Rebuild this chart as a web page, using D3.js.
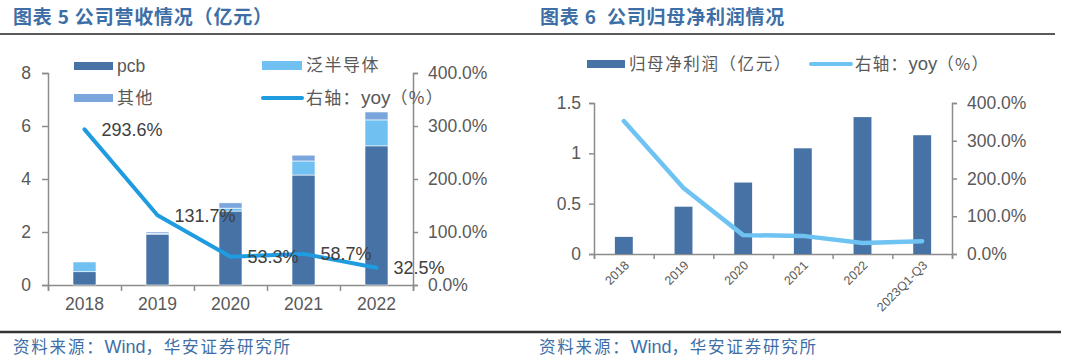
<!DOCTYPE html>
<html>
<head>
<meta charset="utf-8">
<script src="https://cdn.jsdelivr.net/npm/d3@7"></script>
<style>
  body { margin: 0; background: #fff; }
  svg { display: block; }
  text { font-family: "Liberation Sans", Arial, sans-serif; }
  .cjk { font-family: "Noto Sans CJK SC", sans-serif; }
  .lat { font-family: "Liberation Sans", Arial, sans-serif; letter-spacing: 0; }
</style>
</head>
<body>
<div id="chart"></div>
<script>
// ---- data: revenue chart (left) ----
const years = ["2018", "2019", "2020", "2021", "2022"];
const pcb = [0.50, 1.92, 2.79, 4.15, 5.25];
const semi = [0.37, 0.02, 0.11, 0.53, 0.98];
const other = [0.00, 0.06, 0.20, 0.22, 0.30];
const revYoy = [293.6, 131.7, 53.3, 58.7, 32.5];
const revTicks = [0, 2, 4, 6, 8];
const pctTicks = [0, 100, 200, 300, 400];

// ---- data: net profit chart (right) ----
const periods = ["2018", "2019", "2020", "2021", "2022", "2023Q1-Q3"];
const netProfit = [0.17, 0.47, 0.71, 1.05, 1.36, 1.18];
const profitYoy = [352, 175, 50, 48, 29, 34];
const profitTicks = [0, 0.5, 1, 1.5];

const colors = { pcb: "#4672a6", semi: "#70c1f1", other: "#7ba5dd", line1: "#1f9be0", line2: "#6ec3f2" };
const axisColor = "#8c8c8c";
const labelColor = "#595959";
const titleColor = "#3e6ea6";

const svg = d3.select("#chart").append("svg")
  .attr("width", 1080)
  .attr("height", 362);

svg.append("rect").attr("width", 1080).attr("height", 362).attr("fill", "#fff");

// mixed CJK / latin text: parts = [[text, isLatin], ...]
function mixedText(sel, parts) {
  parts.forEach(([t, latin]) => {
    const ts = sel.append("tspan").text(t);
    if (latin) ts.attr("class", "lat");
  });
  return sel;
}

// titles and rules
svg.append("text").attr("class", "cjk")
  .attr("x", 13).attr("y", 24)
  .attr("font-size", 19).attr("font-weight", "bold").attr("fill", titleColor)
  .attr("letter-spacing", 0.8)
  .text("图表 5 公司营收情况（亿元）");
svg.append("text").attr("class", "cjk")
  .attr("x", 540).attr("y", 24)
  .attr("font-size", 19).attr("font-weight", "bold").attr("fill", titleColor)
  .attr("letter-spacing", 0.8)
  .attr("xml:space", "preserve")
  .text("图表 6  公司归母净利润情况");

svg.append("line").attr("x1", 0).attr("x2", 1055).attr("y1", 34).attr("y2", 34)
  .attr("stroke", "#222").attr("stroke-width", 1.5);
svg.append("line").attr("x1", 0).attr("x2", 1061).attr("y1", 332).attr("y2", 332)
  .attr("stroke", "#333").attr("stroke-width", 2.5);

[13, 539].forEach(x => {
  const t = svg.append("text").attr("class", "cjk")
    .attr("x", x).attr("y", 353)
    .attr("font-size", 16.5).attr("fill", titleColor)
    .attr("letter-spacing", 1.8);
  mixedText(t, [["资料来源：", false], ["Wind", true], ["，华安证券研究所", false]]);
  t.select(".lat").attr("font-size", 18);
});

function styleAxis(g) {
  g.select(".domain").attr("stroke", axisColor).attr("stroke-width", 1.5);
  g.selectAll(".tick line").attr("stroke", axisColor).attr("stroke-width", 1.5);
  g.selectAll(".tick text").attr("fill", labelColor)
    .style("font-family", "'Liberation Sans', Arial, sans-serif");
}

// ================= left chart =================
{
  const x = d3.scaleBand().domain(years).range([48, 413]).paddingInner(0.685).paddingOuter(0.3425);
  const xEdge = d3.scaleLinear().domain([0, years.length]).range([48, 413]);
  const y = d3.scaleLinear().domain([0, 8]).range([285, 73]);
  const y2 = d3.scaleLinear().domain([0, 400]).range([285, 73]);

  svg.append("g").attr("transform", "translate(48,0)")
    .call(d3.axisLeft(y).tickValues(revTicks).tickSize(6).tickPadding(11))
    .call(styleAxis)
    .selectAll("text").attr("font-size", 17.5);

  svg.append("g").attr("transform", "translate(413,0)")
    .call(d3.axisRight(y2).tickValues(pctTicks).tickSize(5).tickPadding(10).tickFormat(d => d.toFixed(1) + "%"))
    .call(styleAxis)
    .selectAll("text").attr("font-size", 17.5);

  // x axis: tick marks on band edges, labels at centers
  svg.append("g").attr("transform", "translate(0,285)")
    .call(d3.axisBottom(xEdge).tickValues(d3.range(years.length + 1)).tickSize(6).tickFormat(""))
    .call(styleAxis);
  svg.append("g").attr("transform", "translate(0,285)")
    .call(d3.axisBottom(x).tickSize(0).tickPadding(13))
    .call(g => g.select(".domain").remove())
    .call(styleAxis)
    .selectAll("text").attr("font-size", 17.5);

  const stackRows = years.map((yr, i) => ({ year: yr, pcb: pcb[i], semi: semi[i], other: other[i] }));
  const stacked = d3.stack().keys(["pcb", "semi", "other"])(stackRows);

  svg.append("g").selectAll("g")
    .data(stacked)
    .join("g")
    .attr("fill", d => colors[d.key])
    .selectAll("rect")
    .data(d => d)
    .join("rect")
    .attr("x", d => x(d.data.year))
    .attr("width", x.bandwidth())
    .attr("y", d => y(d[1]))
    .attr("height", d => y(d[0]) - y(d[1]))
    .attr("stroke", "#fff").attr("stroke-width", 0.6);

  const line = d3.line()
    .x((d, i) => x(years[i]) + x.bandwidth() / 2)
    .y(d => y2(d));

  svg.append("path")
    .datum(revYoy)
    .attr("d", line)
    .attr("fill", "none")
    .attr("stroke", colors.line1)
    .attr("stroke-width", 4)
    .attr("stroke-linejoin", "round")
    .attr("stroke-linecap", "round");

  svg.append("g").selectAll("text")
    .data(revYoy)
    .join("text")
    .attr("x", (d, i) => x(years[i]) + x.bandwidth() / 2 + 17)
    .attr("y", d => y2(d))
    .attr("dy", "0.36em")
    .attr("font-size", 18)
    .attr("fill", "#404040")
    .text(d => d.toFixed(1) + "%");

  // legend
  const leg = svg.append("g");
  leg.append("rect").attr("x", 74).attr("y", 62).attr("width", 39).attr("height", 8).attr("fill", colors.pcb);
  leg.append("text").attr("x", 117).attr("y", 66).attr("dy", "0.35em").attr("font-size", 17.5).attr("fill", labelColor).text("pcb");
  leg.append("rect").attr("x", 262).attr("y", 61).attr("width", 40).attr("height", 9).attr("fill", colors.semi);
  leg.append("text").attr("class", "cjk").attr("x", 306).attr("y", 65).attr("dy", "0.35em").attr("font-size", 17).attr("letter-spacing", 1.5).attr("fill", labelColor).text("泛半导体");
  leg.append("rect").attr("x", 74).attr("y", 94).attr("width", 39).attr("height", 8).attr("fill", colors.other);
  leg.append("text").attr("class", "cjk").attr("x", 117).attr("y", 98).attr("dy", "0.35em").attr("font-size", 17).attr("letter-spacing", 1.5).attr("fill", labelColor).text("其他");
  leg.append("line").attr("x1", 263).attr("x2", 302).attr("y1", 98).attr("y2", 98)
    .attr("stroke", colors.line1).attr("stroke-width", 4).attr("stroke-linecap", "round");
  const lt = leg.append("text").attr("class", "cjk").attr("x", 306).attr("y", 98).attr("dy", "0.35em")
    .attr("font-size", 17).attr("letter-spacing", 1.3).attr("fill", labelColor);
  mixedText(lt, [["右轴：", false], ["yoy", true], ["（%）", false]]);
  lt.select(".lat").attr("font-size", 19);
}

// ================= right chart =================
{
  const x = d3.scaleBand().domain(periods).range([594, 952]).paddingInner(0.7).paddingOuter(0.35);
  const xEdge = d3.scaleLinear().domain([0, periods.length]).range([594, 952]);
  const y = d3.scaleLinear().domain([0, 1.5]).range([254, 103]);
  const y2 = d3.scaleLinear().domain([0, 400]).range([254, 103]);

  svg.append("g").attr("transform", "translate(594,0)")
    .call(d3.axisLeft(y).tickValues(profitTicks).tickSize(5).tickPadding(8).tickFormat(d => String(d)))
    .call(styleAxis)
    .selectAll("text").attr("font-size", 17.5);

  svg.append("g").attr("transform", "translate(952,0)")
    .call(d3.axisRight(y2).tickValues(pctTicks).tickSize(5).tickPadding(10).tickFormat(d => d.toFixed(1) + "%"))
    .call(styleAxis)
    .selectAll("text").attr("font-size", 17.5);

  svg.append("g").attr("transform", "translate(0,254)")
    .call(d3.axisBottom(xEdge).tickValues(d3.range(periods.length + 1)).tickSize(5).tickFormat(""))
    .call(styleAxis);

  svg.append("g").selectAll("text")
    .data(periods)
    .join("text")
    .attr("text-anchor", "end")
    .attr("transform", d => `translate(${x(d) + x.bandwidth() / 2 + 6},266) rotate(-45)`)
    .attr("font-size", 12.5)
    .attr("fill", labelColor)
    .text(d => d);

  svg.append("g").selectAll("rect")
    .data(netProfit)
    .join("rect")
    .attr("x", (d, i) => x(periods[i]))
    .attr("width", x.bandwidth())
    .attr("y", d => y(d))
    .attr("height", d => y(0) - y(d))
    .attr("fill", colors.pcb);

  const line = d3.line()
    .x((d, i) => x(periods[i]) + x.bandwidth() / 2)
    .y(d => y2(d));

  svg.append("path")
    .datum(profitYoy)
    .attr("d", line)
    .attr("fill", "none")
    .attr("stroke", colors.line2)
    .attr("stroke-width", 4.5)
    .attr("stroke-linejoin", "round")
    .attr("stroke-linecap", "round");

  const leg = svg.append("g");
  leg.append("rect").attr("x", 587).attr("y", 60).attr("width", 38).attr("height", 8).attr("fill", colors.pcb);
  leg.append("text").attr("class", "cjk").attr("x", 629).attr("y", 64).attr("dy", "0.35em").attr("font-size", 16.5).attr("letter-spacing", 1.6).attr("fill", labelColor).text("归母净利润（亿元）");
  leg.append("line").attr("x1", 811).attr("x2", 851).attr("y1", 64).attr("y2", 64)
    .attr("stroke", colors.line2).attr("stroke-width", 4).attr("stroke-linecap", "round");
  const rt = leg.append("text").attr("class", "cjk").attr("x", 855).attr("y", 64).attr("dy", "0.35em")
    .attr("font-size", 16.5).attr("letter-spacing", 1.3).attr("fill", labelColor);
  mixedText(rt, [["右轴：", false], ["yoy", true], ["（%）", false]]);
  rt.select(".lat").attr("font-size", 18.5);
}
</script>
</body>
</html>
